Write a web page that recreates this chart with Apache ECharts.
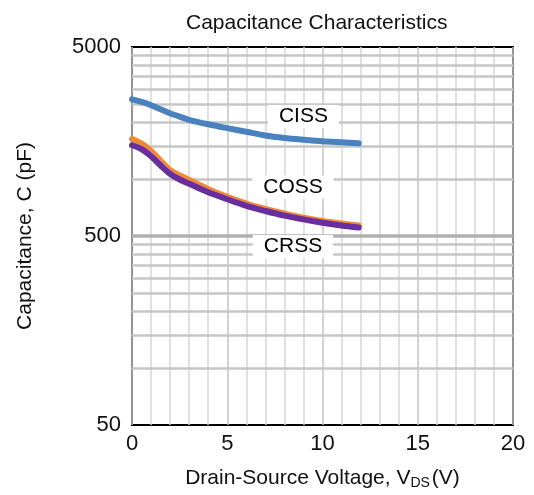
<!DOCTYPE html>
<html>
<head>
<meta charset="utf-8">
<script src="https://cdn.jsdelivr.net/npm/echarts@6/dist/echarts.min.js"></script>
<style>
    html, body { margin: 0; padding: 0; background: #fff; }
    #chrt_capacitance { width: 534px; height: 495px; }
</style>
</head>
<body>
<div id="chrt_capacitance"></div>
<script>
// values, V in volts, C in pF
const vds  = [ 0, 0.5, 1, 1.5, 2, 2.5, 3, 4, 5, 6, 7, 8, 9, 10, 11, 11.9 ];
const ciss = [ 2640, 2560, 2460, 2340, 2230, 2140, 2060, 1950, 1860, 1780, 1700, 1650, 1615, 1585, 1565, 1548 ];
const coss = [ 1630, 1540, 1410, 1250, 1115, 1045, 990, 885, 805, 742, 695, 657, 625, 600, 582, 568 ];
const crss = [ 1510, 1440, 1320, 1180, 1065, 995, 945, 852, 782, 722, 678, 641, 612, 588, 568, 554 ];
const yTicks = [ 50, 500, 5000 ];
const majorLines = [ 500 ];
const minorLines = [ 100, 150, 200, 250, 300, 350, 400, 450, 1000, 1500, 2000, 2500, 3000, 3500, 4000, 4500 ];

const font = 'Liberation Sans, Arial, sans-serif';

function pairs(ys) { return vds.map((x, i) => [ x, ys[i] ]) }

function tag(text, x, y) {
    return {
        coord: [ x, y ], symbol: 'rect', symbolSize: 0,
        label: {
            show: true, formatter: text, position: 'inside',
            color: '#000', fontSize: 21, fontFamily: font,
            backgroundColor: '#fff', padding: [ 2, 11, 0, 11 ]
        }
    }
}

const chart = echarts.init(document.getElementById('chrt_capacitance'));
chart.setOption({
    animation: false,
    title: {
        text: 'Capacitance Characteristics', left: 181, top: 8,
        textStyle: { fontSize: 21, fontWeight: 'normal', color: '#111', fontFamily: font }
    },
    grid: {
        left: 132, top: 47, right: 21, bottom: 67,
        show: true, borderColor: '#000', borderWidth: 2, backgroundColor: 'transparent'
    },
    xAxis: {
        type: 'value', min: 0, max: 20, interval: 5,
        name: 'Drain-Source Voltage, V{s|DS}(V)',
        nameLocation: 'middle', nameGap: 42,
        nameTextStyle: {
            fontSize: 21, color: '#111', fontFamily: font,
            rich: { s: { fontSize: 14, verticalAlign: 'bottom', padding: [ 9, 2, 0, 0 ], fontFamily: font, color: '#111' } }
        },
        axisLine: { show: false },
        axisTick: { show: false },
        axisLabel: { fontSize: 22, color: '#111', fontFamily: font, margin: 8 },
        splitLine: { show: true, lineStyle: { color: '#c4c4c4', width: 1.5 } },
        minorTick: { show: false, splitNumber: 5 },
        minorSplitLine: { show: true, lineStyle: { color: '#d8d8d8', width: 1.5 } }
    },
    yAxis: {
        type: 'log', logBase: 10, min: 50, max: 5000,
        name: 'Capacitance, C (pF)',
        nameLocation: 'middle', nameGap: 96,
        nameTextStyle: { fontSize: 21, color: '#111', fontFamily: font },
        axisLine: { show: false },
        axisTick: { show: false },
        axisLabel: {
            fontSize: 22, color: '#111', fontFamily: font, margin: 11,
            customValues: yTicks, formatter: v => String(v)
        },
        splitLine: { show: false }
    },
    series: [
        {
            // grid lines of the log axis
            type: 'line', data: [], silent: true, z: 1,
            markLine: {
                silent: true, symbol: 'none', label: { show: false }, z: 1,
                data: [
                    ...minorLines.map(v => ({ yAxis: v, lineStyle: { color: '#c6c6c6', width: 2.5, type: 'solid' } })),
                    ...majorLines.map(v => ({ yAxis: v, lineStyle: { color: '#b0b0b0', width: 3.5, type: 'solid' } }))
                ]
            }
        },
        {
            name: 'CISS', type: 'line', data: pairs(ciss), smooth: 0.3, symbol: 'none', z: 3,
            lineStyle: { width: 6, color: '#4a82c0', cap: 'round', join: 'round' },
            markPoint: { data: [ tag('CISS', 9.0, 2146) ] }
        },
        {
            name: 'COSS', type: 'line', data: pairs(coss), smooth: 0.3, symbol: 'none', z: 3,
            lineStyle: { width: 6, color: '#ee8a34', cap: 'round', join: 'round' },
            markPoint: { data: [ tag('COSS', 8.45, 909) ] }
        },
        {
            name: 'CRSS', type: 'line', data: pairs(crss), smooth: 0.3, symbol: 'none', z: 3,
            lineStyle: { width: 6, color: '#6a2d9e', cap: 'round', join: 'round' },
            markPoint: { data: [ tag('CRSS', 8.45, 440) ] }
        }
    ]
});
</script>
</body>
</html>
